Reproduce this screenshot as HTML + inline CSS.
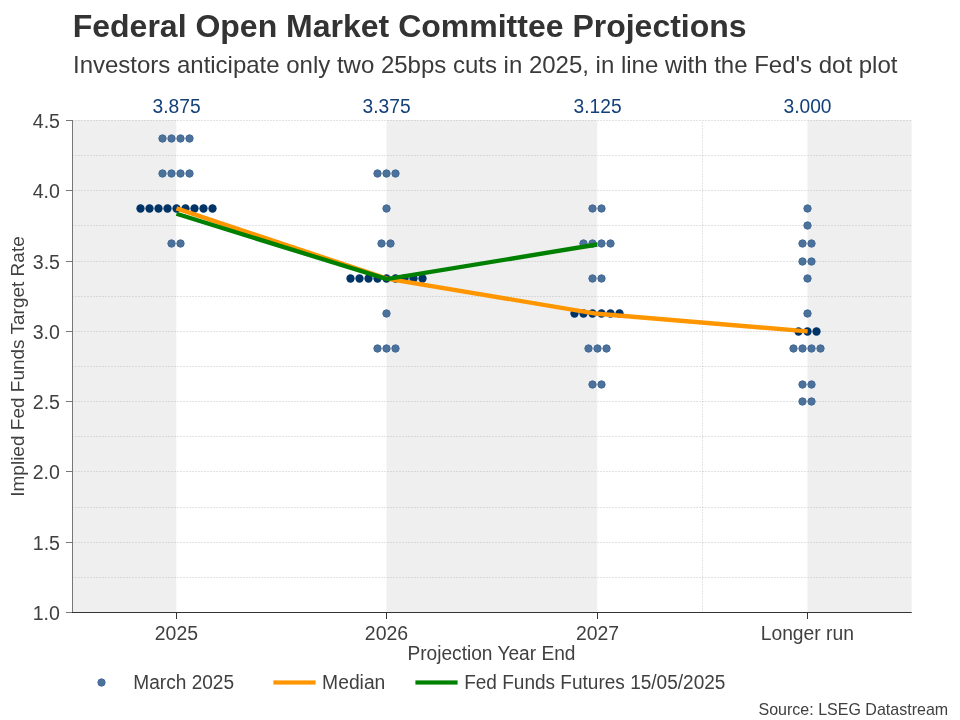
<!DOCTYPE html>
<html lang="en"><head><meta charset="utf-8"><title>Federal Open Market Committee Projections</title>
<style>
html,body{margin:0;padding:0;background:#fff;}
body{width:960px;height:720px;overflow:hidden;}
svg{display:block;}
text{font-family:"Liberation Sans",Arial,Helvetica,sans-serif;}
.t{fill:#404040;}
.an{fill:#144079;}
</style></head><body>
<svg width="960" height="720" viewBox="0 0 960 720">
<rect x="0" y="0" width="960" height="720" fill="#ffffff"/>
<g fill="#efefef">
<rect x="73.00" y="120.00" width="103.30" height="492.00"/>
<rect x="386.50" y="120.00" width="210.70" height="492.00"/>
<rect x="807.50" y="120.00" width="104.10" height="492.00"/>
</g>
<g stroke="#a9acb0" stroke-opacity="0.34" stroke-width="1" stroke-dasharray="2 1" fill="none" shape-rendering="crispEdges">
<line x1="72" y1="577.5" x2="911" y2="577.5"/>
<line x1="72" y1="542.5" x2="911" y2="542.5"/>
<line x1="72" y1="507.5" x2="911" y2="507.5"/>
<line x1="72" y1="471.5" x2="911" y2="471.5"/>
<line x1="72" y1="436.5" x2="911" y2="436.5"/>
<line x1="72" y1="401.5" x2="911" y2="401.5"/>
<line x1="72" y1="366.5" x2="911" y2="366.5"/>
<line x1="72" y1="331.5" x2="911" y2="331.5"/>
<line x1="72" y1="296.5" x2="911" y2="296.5"/>
<line x1="72" y1="261.5" x2="911" y2="261.5"/>
<line x1="72" y1="225.5" x2="911" y2="225.5"/>
<line x1="72" y1="190.5" x2="911" y2="190.5"/>
<line x1="72" y1="155.5" x2="911" y2="155.5"/>
<line x1="72" y1="120.5" x2="911" y2="120.5"/>
<line x1="702.5" y1="122" x2="702.5" y2="612" stroke-opacity="0.3"/>
</g>
<g fill="#4d729a" stroke="#436a99" stroke-width="1">
<circle cx="162.5" cy="138.5" r="3.70"/>
<circle cx="171.5" cy="138.5" r="3.70"/>
<circle cx="180.5" cy="138.5" r="3.70"/>
<circle cx="189.5" cy="138.5" r="3.70"/>
</g>
<g fill="#4d729a" stroke="#436a99" stroke-width="1">
<circle cx="162.5" cy="173.5" r="3.70"/>
<circle cx="171.5" cy="173.5" r="3.70"/>
<circle cx="180.5" cy="173.5" r="3.70"/>
<circle cx="189.5" cy="173.5" r="3.70"/>
</g>
<g fill="#003366">
<circle cx="140.5" cy="208.5" r="4.15"/>
<circle cx="149.5" cy="208.5" r="4.15"/>
<circle cx="158.5" cy="208.5" r="4.15"/>
<circle cx="167.5" cy="208.5" r="4.15"/>
<circle cx="176.5" cy="208.5" r="4.15"/>
<circle cx="185.5" cy="208.5" r="4.15"/>
<circle cx="194.5" cy="208.5" r="4.15"/>
<circle cx="203.5" cy="208.5" r="4.15"/>
<circle cx="212.5" cy="208.5" r="4.15"/>
</g>
<g fill="#4d729a" stroke="#436a99" stroke-width="1">
<circle cx="171.5" cy="243.5" r="3.70"/>
<circle cx="180.5" cy="243.5" r="3.70"/>
</g>
<g fill="#4d729a" stroke="#436a99" stroke-width="1">
<circle cx="377.5" cy="173.5" r="3.70"/>
<circle cx="386.5" cy="173.5" r="3.70"/>
<circle cx="395.5" cy="173.5" r="3.70"/>
</g>
<g fill="#4d729a" stroke="#436a99" stroke-width="1">
<circle cx="386.5" cy="208.5" r="3.70"/>
</g>
<g fill="#4d729a" stroke="#436a99" stroke-width="1">
<circle cx="381.5" cy="243.5" r="3.70"/>
<circle cx="390.5" cy="243.5" r="3.70"/>
</g>
<g fill="#003366">
<circle cx="350.5" cy="278.5" r="4.15"/>
<circle cx="359.5" cy="278.5" r="4.15"/>
<circle cx="368.5" cy="278.5" r="4.15"/>
<circle cx="377.5" cy="278.5" r="4.15"/>
<circle cx="386.5" cy="278.5" r="4.15"/>
<circle cx="395.5" cy="278.5" r="4.15"/>
<circle cx="404.5" cy="278.5" r="4.15"/>
<circle cx="413.5" cy="278.5" r="4.15"/>
<circle cx="422.5" cy="278.5" r="4.15"/>
</g>
<g fill="#4d729a" stroke="#436a99" stroke-width="1">
<circle cx="386.5" cy="313.5" r="3.70"/>
</g>
<g fill="#4d729a" stroke="#436a99" stroke-width="1">
<circle cx="377.5" cy="348.5" r="3.70"/>
<circle cx="386.5" cy="348.5" r="3.70"/>
<circle cx="395.5" cy="348.5" r="3.70"/>
</g>
<g fill="#4d729a" stroke="#436a99" stroke-width="1">
<circle cx="592.5" cy="208.5" r="3.70"/>
<circle cx="601.5" cy="208.5" r="3.70"/>
</g>
<g fill="#4d729a" stroke="#436a99" stroke-width="1">
<circle cx="583.5" cy="243.5" r="3.70"/>
<circle cx="592.5" cy="243.5" r="3.70"/>
<circle cx="601.5" cy="243.5" r="3.70"/>
<circle cx="610.5" cy="243.5" r="3.70"/>
</g>
<g fill="#4d729a" stroke="#436a99" stroke-width="1">
<circle cx="592.5" cy="278.5" r="3.70"/>
<circle cx="601.5" cy="278.5" r="3.70"/>
</g>
<g fill="#003366">
<circle cx="574.5" cy="313.5" r="4.15"/>
<circle cx="583.5" cy="313.5" r="4.15"/>
<circle cx="592.5" cy="313.5" r="4.15"/>
<circle cx="601.5" cy="313.5" r="4.15"/>
<circle cx="610.5" cy="313.5" r="4.15"/>
<circle cx="619.5" cy="313.5" r="4.15"/>
</g>
<g fill="#4d729a" stroke="#436a99" stroke-width="1">
<circle cx="588.5" cy="348.5" r="3.70"/>
<circle cx="597.5" cy="348.5" r="3.70"/>
<circle cx="606.5" cy="348.5" r="3.70"/>
</g>
<g fill="#4d729a" stroke="#436a99" stroke-width="1">
<circle cx="592.5" cy="384.5" r="3.70"/>
<circle cx="601.5" cy="384.5" r="3.70"/>
</g>
<g fill="#4d729a" stroke="#436a99" stroke-width="1">
<circle cx="807.5" cy="208.5" r="3.70"/>
</g>
<g fill="#4d729a" stroke="#436a99" stroke-width="1">
<circle cx="807.5" cy="225.5" r="3.70"/>
</g>
<g fill="#4d729a" stroke="#436a99" stroke-width="1">
<circle cx="802.5" cy="243.5" r="3.70"/>
<circle cx="811.5" cy="243.5" r="3.70"/>
</g>
<g fill="#4d729a" stroke="#436a99" stroke-width="1">
<circle cx="802.5" cy="261.5" r="3.70"/>
<circle cx="811.5" cy="261.5" r="3.70"/>
</g>
<g fill="#4d729a" stroke="#436a99" stroke-width="1">
<circle cx="807.5" cy="278.5" r="3.70"/>
</g>
<g fill="#4d729a" stroke="#436a99" stroke-width="1">
<circle cx="807.5" cy="313.5" r="3.70"/>
</g>
<g fill="#003366">
<circle cx="798.5" cy="331.5" r="4.15"/>
<circle cx="807.5" cy="331.5" r="4.15"/>
<circle cx="816.5" cy="331.5" r="4.15"/>
</g>
<g fill="#4d729a" stroke="#436a99" stroke-width="1">
<circle cx="793.5" cy="348.5" r="3.70"/>
<circle cx="802.5" cy="348.5" r="3.70"/>
<circle cx="811.5" cy="348.5" r="3.70"/>
<circle cx="820.5" cy="348.5" r="3.70"/>
</g>
<g fill="#4d729a" stroke="#436a99" stroke-width="1">
<circle cx="802.5" cy="384.5" r="3.70"/>
<circle cx="811.5" cy="384.5" r="3.70"/>
</g>
<g fill="#4d729a" stroke="#436a99" stroke-width="1">
<circle cx="802.5" cy="401.5" r="3.70"/>
<circle cx="811.5" cy="401.5" r="3.70"/>
</g>
<polyline points="176.45,208.36 386.85,278.64 597.25,313.79 807.65,331.36" fill="none" stroke="#ff9600" stroke-width="4.35" stroke-linejoin="miter"/>
<polyline points="176.45,213.77 386.85,279.13 597.25,244.48" fill="none" stroke="#008000" stroke-width="4.35" stroke-linejoin="miter"/>
<rect x="72" y="120" width="1" height="493" fill="#777777"/>
<rect x="72" y="612" width="839.7" height="1" fill="#333333"/>
<g fill="#777777">
<rect x="66" y="612" width="6" height="1"/>
<rect x="66" y="542" width="6" height="1"/>
<rect x="66" y="471" width="6" height="1"/>
<rect x="66" y="401" width="6" height="1"/>
<rect x="66" y="331" width="6" height="1"/>
<rect x="66" y="261" width="6" height="1"/>
<rect x="66" y="190" width="6" height="1"/>
<rect x="66" y="120" width="6" height="1"/>
</g>
<g fill="#333333">
<rect x="176" y="613" width="1" height="6"/>
<rect x="386" y="613" width="1" height="6"/>
<rect x="597" y="613" width="1" height="6"/>
<rect x="807" y="613" width="1" height="6"/>
</g>
<g class="t">
<text x="32.72" y="619.80" font-size="19.50" textLength="27.25" lengthAdjust="spacingAndGlyphs">1.0</text>
<text x="32.78" y="549.80" font-size="19.50" textLength="27.25" lengthAdjust="spacingAndGlyphs">1.5</text>
<text x="32.72" y="478.80" font-size="19.50" textLength="27.25" lengthAdjust="spacingAndGlyphs">2.0</text>
<text x="32.78" y="408.80" font-size="19.50" textLength="27.25" lengthAdjust="spacingAndGlyphs">2.5</text>
<text x="32.72" y="338.80" font-size="19.50" textLength="27.25" lengthAdjust="spacingAndGlyphs">3.0</text>
<text x="32.78" y="268.80" font-size="19.50" textLength="27.25" lengthAdjust="spacingAndGlyphs">3.5</text>
<text x="32.72" y="197.80" font-size="19.50" textLength="27.25" lengthAdjust="spacingAndGlyphs">4.0</text>
<text x="32.78" y="127.80" font-size="19.50" textLength="27.25" lengthAdjust="spacingAndGlyphs">4.5</text>
<text x="154.82" y="640.00" font-size="19.50" textLength="43.24" lengthAdjust="spacingAndGlyphs">2025</text>
<text x="364.82" y="640.00" font-size="19.50" textLength="43.34" lengthAdjust="spacingAndGlyphs">2026</text>
<text x="575.92" y="640.00" font-size="19.50" textLength="43.15" lengthAdjust="spacingAndGlyphs">2027</text>
<text x="760.72" y="640.00" font-size="19.50" textLength="93.23" lengthAdjust="spacingAndGlyphs">Longer run</text>
<text x="407.43" y="660.00" font-size="19.50" textLength="168.00" lengthAdjust="spacingAndGlyphs">Projection Year End</text>
<text transform="translate(24.05 496.75) rotate(-90)" font-size="18.50" textLength="260.49" lengthAdjust="spacingAndGlyphs">Implied Fed Funds Target Rate</text>
</g>
<g class="an">
<text x="152.57" y="113.00" font-size="19.50" textLength="48.04" lengthAdjust="spacingAndGlyphs">3.875</text>
<text x="362.57" y="113.00" font-size="19.50" textLength="48.04" lengthAdjust="spacingAndGlyphs">3.375</text>
<text x="573.57" y="113.00" font-size="19.50" textLength="48.04" lengthAdjust="spacingAndGlyphs">3.125</text>
<text x="783.57" y="113.00" font-size="19.50" textLength="47.98" lengthAdjust="spacingAndGlyphs">3.000</text>
</g>
<text x="72.7" y="37.1" font-size="32" font-weight="bold" fill="#333333">Federal Open Market Committee Projections</text>
<text x="73" y="72.8" font-size="24" letter-spacing="-0.008" fill="#3a3a3a">Investors anticipate only two 25bps cuts in 2025, in line with the Fed's dot plot</text>
<circle cx="101.5" cy="682.5" r="3.65" fill="#4d729a" stroke="#436a99" stroke-width="1"/>
<rect x="273.4" y="680.4" width="42.2" height="4.2" fill="#ff9600"/>
<rect x="415.4" y="680.4" width="42.2" height="4.2" fill="#008000"/>
<g class="t">
<text x="133.33" y="689.00" font-size="19.40" textLength="100.77" lengthAdjust="spacingAndGlyphs">March 2025</text>
<text x="322.12" y="689.00" font-size="19.40" textLength="63.23" lengthAdjust="spacingAndGlyphs">Median</text>
<text x="464.14" y="689.00" font-size="19.40" textLength="261.26" lengthAdjust="spacingAndGlyphs">Fed Funds Futures 15/05/2025</text>
<text x="758.47" y="715.20" font-size="16.60" textLength="189.68" lengthAdjust="spacingAndGlyphs">Source: LSEG Datastream</text>
</g>
</svg>
</body></html>
